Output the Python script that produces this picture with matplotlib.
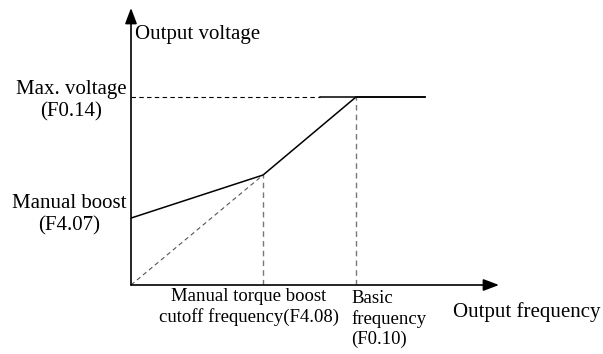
import matplotlib
matplotlib.use('Agg')
import matplotlib.pyplot as plt

# V/f curve with manual torque boost (units: base frequency = 1, max voltage = 1)
F_CUTOFF = 0.587      # manual torque boost cutoff frequency (F4.08)
F_BASE = 1.0          # basic frequency (F0.10)
F_END = 1.307         # end of drawn flat section
V_BOOST = 0.356       # manual boost (F4.07)
V_CUTOFF = 0.585      # voltage at cutoff frequency
V_MAX = 1.0           # max voltage (F0.14)
F_DASH_END = 0.84     # where the max-voltage guide turns solid

curve_f = [0.0, F_CUTOFF, F_BASE, F_END]
curve_v = [V_BOOST, V_CUTOFF, V_MAX, V_MAX]
linear_f = [0.0, F_CUTOFF]
linear_v = [0.0, V_CUTOFF]

W, H = 603, 354
fig = plt.figure(figsize=(W / 100, H / 100), dpi=100)
# axes origin at pixel (131, 285); 225 px per unit in x, 188 px per unit in y
ax = fig.add_axes([131 / W, (H - 285) / H, 380 / W, 285 / H])
ax.set_xlim(0, 380 / 225)
ax.set_ylim(0, 285 / 188)
ax.axis('off')

serif = ['Liberation Serif', 'DejaVu Serif']
fs = 15
fs_small = 13.5

# axes with arrows
arrow = dict(arrowstyle='-|>,head_length=0.95,head_width=0.36', mutation_scale=10,
             lw=1.2, color='black', shrinkA=0, shrinkB=0)
ax.annotate('', xy=(368 / 225, 0), xytext=(0, 0), arrowprops=arrow, annotation_clip=False)
ax.annotate('', xy=(0, 277 / 188), xytext=(0, 0), arrowprops=arrow, annotation_clip=False)

# guide lines
ax.plot([0, F_DASH_END], [V_MAX, V_MAX], color='black', lw=0.8, ls=(0, (4, 3)))
ax.plot([F_BASE, F_BASE], [0, V_MAX], color='#777777', lw=1.0, ls=(0, (4, 3)))
ax.plot([F_CUTOFF, F_CUTOFF], [0, V_CUTOFF], color='#777777', lw=1.0, ls=(0, (4, 3)))
ax.plot(linear_f, linear_v, color='#555555', lw=0.8, ls=(0, (4, 3)))

# V/f curve
ax.plot(curve_f, curve_v, color='black', lw=1.1)
ax.plot([F_DASH_END, F_END], [V_MAX, V_MAX], color='black', lw=1.1)

def px(x, y):
    return (x - 131) / 225, (285 - y) / 188

ax.text(*px(135, 34), 'Output voltage', family=serif, fontsize=fs,
        ha='left', va='center', clip_on=False)
ax.text(*px(71, 101), 'Max. voltage\n(F0.14)', family=serif, fontsize=fs,
        ha='center', va='center', ma='center', linespacing=1.25, clip_on=False)
ax.text(*px(69, 215), 'Manual boost\n(F4.07)', family=serif, fontsize=fs,
        ha='center', va='center', ma='center', linespacing=1.2, clip_on=False)
ax.text(*px(249, 307), 'Manual torque boost\ncutoff frequency(F4.08)', family=serif,
        fontsize=fs_small, ha='center', va='center', ma='center', linespacing=1.2,
        clip_on=False)
ax.text(*px(351, 319), 'Basic\nfrequency\n(F0.10)', family=serif, fontsize=fs_small,
        ha='left', va='center', ma='left', linespacing=1.2, clip_on=False)
ax.text(*px(453, 312), 'Output frequency', family=serif, fontsize=fs,
        ha='left', va='center', clip_on=False)

fig.savefig('out.png', dpi=100)
